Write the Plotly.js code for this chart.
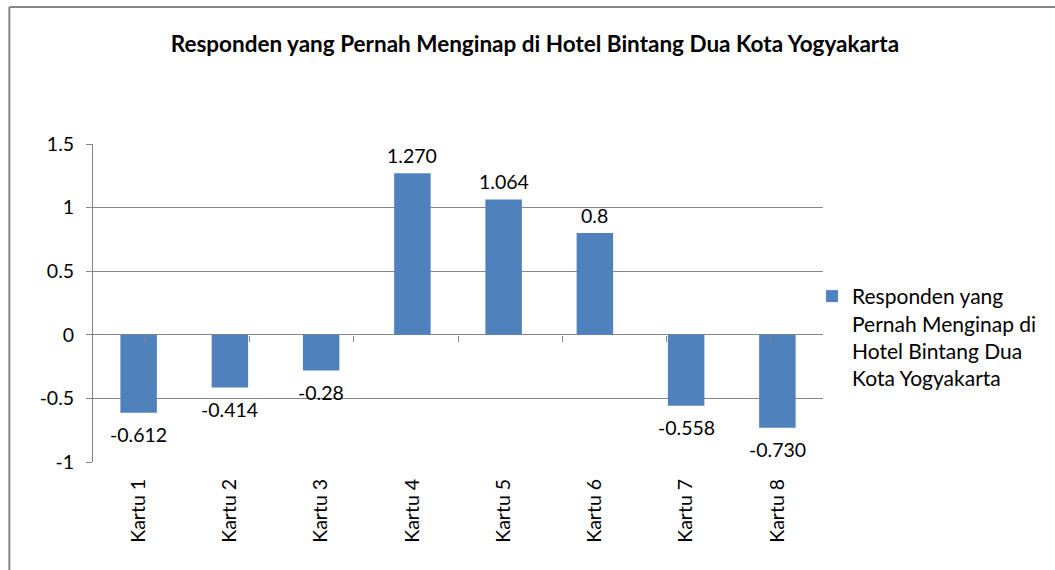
<!DOCTYPE html>
<html>
<head>
<meta charset="utf-8">
<script src="https://cdn.plot.ly/plotly-3.0.1.min.js"></script>
<style>html,body{margin:0;padding:0;background:#fff;}#chart{width:1055px;height:570px;}</style>
</head>
<body>
<div id="chart"></div>
<script>
const categories = ['Kartu 1','Kartu 2','Kartu 3','Kartu 4','Kartu 5','Kartu 6','Kartu 7','Kartu 8'];
const values = [-0.612, -0.414, -0.28, 1.270, 1.064, 0.8, -0.558, -0.730];
const valueLabels = ['-0.612','-0.414','-0.28','1.270','1.064','0.8','-0.558','-0.730'];
const yTickVals = [-1, -0.5, 0, 0.5, 1, 1.5];
const yTickText = ['-1','-0.5','0','0.5','1','1.5'];
const seriesName = 'Responden yang<br>Pernah Menginap di<br>Hotel Bintang Dua<br>Kota Yogyakarta';
const chartTitle = 'Responden yang Pernah Menginap di Hotel Bintang Dua Kota Yogyakarta';

const FONT = 'Lato, "Open Sans", sans-serif';
const GRID = '#868686';

const traces = [
  {
    type: 'bar', x: categories, y: values, name: seriesName,
    marker: {color: '#4F81BD'}, hoverinfo: 'skip'
  },
  {
    type: 'scatter', mode: 'none', x: categories, y: values,
    xaxis: 'x2', yaxis: 'y', showlegend: false, hoverinfo: 'skip'
  }
];

const annotations = categories.map((c, i) => ({
  x: c, y: values[i], xref: 'x', yref: 'y',
  text: valueLabels[i], showarrow: false,
  yshift: values[i] >= 0 ? 18 : -22,
  font: {family: FONT, size: 19.5, color: '#000'}
}));

const layout = {
  width: 1055, height: 570,
  margin: {l: 93, r: 232, t: 144, b: 108},
  paper_bgcolor: '#fff', plot_bgcolor: '#fff',
  font: {family: FONT, size: 19.5, color: '#000'},
  title: {
    text: '<b>' + chartTitle + '</b>',
    x: 0.507, xanchor: 'center', xref: 'container',
    y: 0.923, yanchor: 'middle', yref: 'container',
    font: {family: FONT, size: 22.5, color: '#000'}
  },
  bargap: 0.6,
  showlegend: true,
  legend: {
    x: 0.985, xanchor: 'left', y: 0.585, yanchor: 'top',
    valign: 'top', bgcolor: 'rgba(0,0,0,0)',
    font: {family: FONT, size: 21, color: '#000'},
    itemwidth: 30
  },
  xaxis: {
    type: 'category', showgrid: false, showline: false, zeroline: false,
    tickangle: -90, ticks: '', ticklabelstandoff: 12,
    tickfont: {family: FONT, size: 19.5, color: '#000'},
    fixedrange: true
  },
  xaxis2: {
    type: 'category', overlaying: 'x', anchor: 'free', position: 0.4,
    side: 'bottom', showgrid: false, showline: false, zeroline: false,
    showticklabels: false, ticks: 'outside', ticklen: 6, tickcolor: GRID,
    tickwidth: 1, tickson: 'boundaries', fixedrange: true
  },
  yaxis: {
    range: [-1, 1.5], tickvals: yTickVals, ticktext: yTickText,
    showgrid: true, gridcolor: GRID, gridwidth: 1,
    zeroline: true, zerolinecolor: GRID, zerolinewidth: 1,
    showline: true, linecolor: GRID, linewidth: 1,
    ticks: 'outside', ticklen: 6, tickcolor: GRID,
    ticklabelstandoff: 8,
    tickfont: {family: FONT, size: 19.5, color: '#000'},
    fixedrange: true
  },
  annotations: annotations,
  shapes: [
    {type: 'line', xref: 'paper', yref: 'paper', x0: -0.1146, x1: 1.4, y0: 1.4307, y1: 1.4307,
     line: {color: '#868686', width: 2}},
    {type: 'line', xref: 'paper', yref: 'paper', x0: -0.1146, x1: -0.1146, y0: -0.4, y1: 1.4307,
     line: {color: '#868686', width: 2}}
  ]
};

Plotly.newPlot('chart', traces, layout, {displayModeBar: false, staticPlot: true});
</script>
</body>
</html>
